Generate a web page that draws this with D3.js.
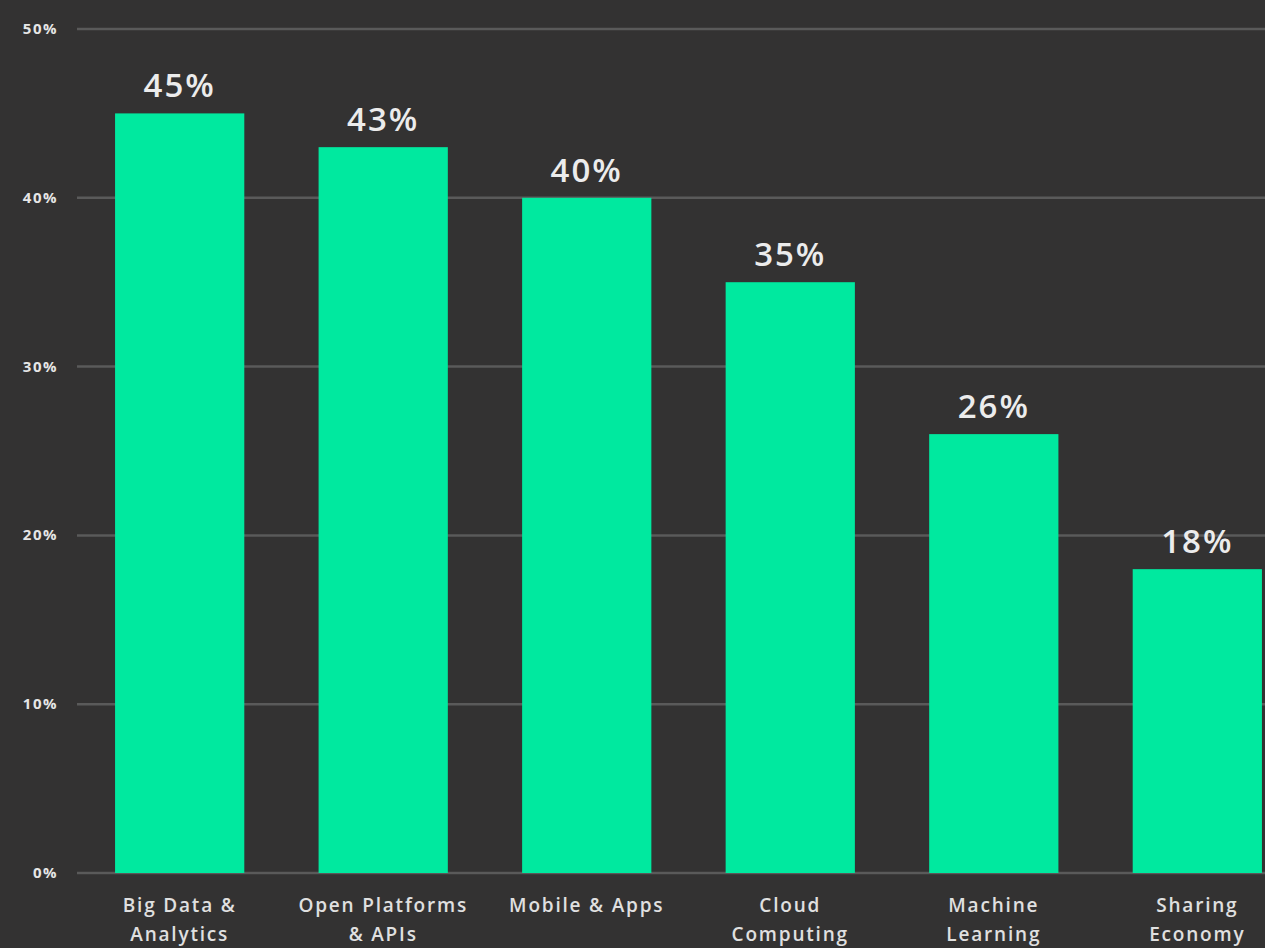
<!DOCTYPE html>
<html>
<head>
<meta charset="utf-8">
<script src="https://cdn.jsdelivr.net/npm/d3@7"></script>
<style>
  html, body { margin: 0; padding: 0; background: #333232; overflow: hidden; }
  svg { display: block; }
</style>
</head>
<body>
<svg id="chart" width="1265" height="948"></svg>
<script>
// Technology adoption shares
const categories = [
  ["Big Data &", "Analytics"],
  ["Open Platforms", "& APIs"],
  ["Mobile & Apps"],
  ["Cloud", "Computing"],
  ["Machine", "Learning"],
  ["Sharing", "Economy"]
];
const values = [45, 43, 40, 35, 26, 18];
const yTicks = [0, 10, 20, 30, 40, 50];

const W = 1265, H = 948;
const svg = d3.select("#chart");
svg.append("rect").attr("width", W).attr("height", H).attr("fill", "#333232");

const keys = categories.map(c => c.join(" "));
const x = d3.scaleBand().domain(keys).range([77, 1300]).paddingInner(0.365).paddingOuter(0.187);
const y = d3.scaleLinear().domain([0, 50]).range([873, 29]);

// horizontal gridlines
svg.append("g").selectAll("line").data(yTicks).join("line")
  .attr("x1", 77).attr("x2", W)
  .attr("y1", d => y(d)).attr("y2", d => y(d))
  .attr("stroke", "#5a5a5a").attr("stroke-width", 2.5);

// y tick labels
svg.append("g").selectAll("text").data(yTicks).join("text")
  .attr("x", 58).attr("y", d => y(d) + 5)
  .attr("text-anchor", "end")
  .attr("font-family", "'Open Sans', sans-serif")
  .attr("font-weight", 700)
  .attr("font-size", 15)
  .attr("letter-spacing", 1.5)
  .attr("fill", "#e6e6e6")
  .text(d => d + "%");

// bars
svg.append("g").selectAll("rect").data(values).join("rect")
  .attr("x", (d, i) => x(keys[i]))
  .attr("width", x.bandwidth())
  .attr("y", d => y(d))
  .attr("height", d => y(0) - y(d))
  .attr("fill", "#00e99f");

// value labels
svg.append("g").selectAll("text").data(values).join("text")
  .attr("x", (d, i) => x(keys[i]) + x.bandwidth() / 2)
  .attr("y", d => y(d) - 16)
  .attr("text-anchor", "middle")
  .attr("font-family", "'Open Sans', sans-serif")
  .attr("font-weight", 600)
  .attr("font-size", 33)
  .attr("letter-spacing", 2)
  .attr("fill", "#ececec")
  .text(d => d + "%");

// category labels
const cat = svg.append("g").selectAll("text").data(categories).join("text")
  .attr("x", (d, i) => x(keys[i]) + x.bandwidth() / 2)
  .attr("y", 912)
  .attr("text-anchor", "middle")
  .attr("font-family", "'Open Sans', sans-serif")
  .attr("font-weight", 600)
  .attr("font-size", 19)
  .attr("letter-spacing", 1.8)
  .attr("fill", "#e0e0e0");
cat.each(function(d) {
  d3.select(this).selectAll("tspan").data(d).join("tspan")
    .attr("x", d3.select(this).attr("x"))
    .attr("dy", (t, j) => j === 0 ? 0 : 29)
    .text(t => t);
});
</script>
</body>
</html>
